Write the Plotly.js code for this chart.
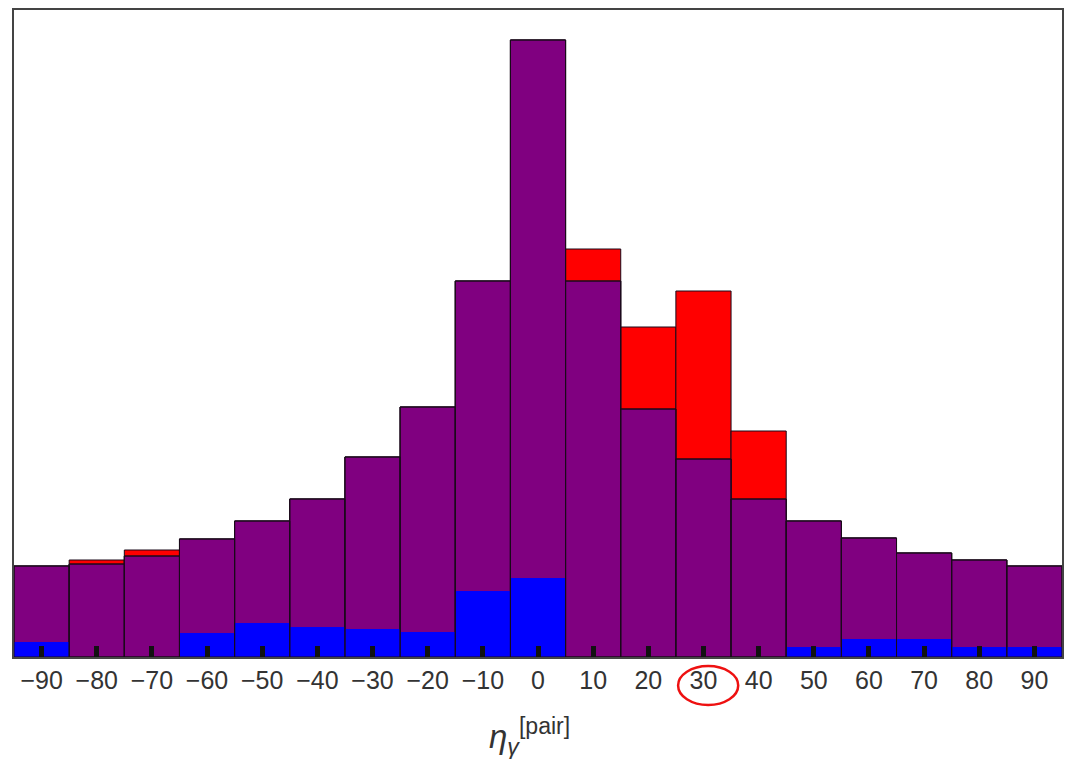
<!DOCTYPE html>
<html>
<head>
<meta charset="utf-8">
<script src="https://cdn.plot.ly/plotly-3.0.1.min.js"></script>
<style>html,body{margin:0;padding:0;background:#fff;}#chart{width:1068px;height:759px;}</style>
</head>
<body>
<div id="chart"></div>
<script>
// bin centres of eta_gamma^[pair]
var binCenters = [-90,-80,-70,-60,-50,-40,-30,-20,-10,0,10,20,30,40,50,60,70,80,90];
// counts (arbitrary units)
var redCounts    = [91,97,107,118,136,158,200,250,376,617,408,330,366,226,136,119,104,97,91];
var purpleCounts = [91,93,101,118,136,158,200,250,376,617,376,248,198,158,136,119,104,97,91];
var blueCounts   = [15,0,0,24,34,30,28,25,66,79,0,0,0,0,10,18,18,10,10];
var tickVals = [-90,-80,-70,-60,-50,-40,-30,-20,-10,0,10,20,30,40,50,60,70,80,90];
var binWidth = 10;

function widths(){ return binCenters.map(function(){return binWidth;}); }

var edge = '#1a0a1a';
var traces = [
  {type:'bar', x:binCenters, y:redCounts, width:widths(),
   marker:{color:'#ff0000', line:{color:edge, width:1}}, hoverinfo:'x+y', name:'red'},
  {type:'bar', x:binCenters, y:purpleCounts, width:widths(),
   marker:{color:'#800080', line:{color:edge, width:1}}, hoverinfo:'x+y', name:'purple'},
  {type:'bar', x:binCenters, y:blueCounts, width:widths(),
   marker:{color:'#0000ff', line:{width:0}}, hoverinfo:'x+y', name:'blue'},
  {type:'bar', x:binCenters, y:purpleCounts, width:widths(),
   marker:{color:'rgba(0,0,0,0)', line:{color:edge, width:1}}, hoverinfo:'skip', name:'edges'}
];

var layout = {
  width:1068, height:759,
  margin:{l:14, r:6, t:10, b:102},
  paper_bgcolor:'#ffffff', plot_bgcolor:'#ffffff',
  barmode:'overlay', bargap:0, showlegend:false,
  font:{family:'Liberation Sans, Arial, sans-serif', color:'#333333'},
  xaxis:{range:[-95,95], tickmode:'array', tickvals:tickVals,
    ticks:'inside', ticklen:11, tickwidth:5, tickcolor:'#111111',
    showline:true, linecolor:'#444444', linewidth:2, mirror:true,
    showgrid:false, zeroline:false,
    tickfont:{size:25, color:'#333333'}, fixedrange:true},
  yaxis:{range:[0,647], showticklabels:false, ticks:'',
    showline:true, linecolor:'#444444', linewidth:2, mirror:true,
    showgrid:false, zeroline:false, fixedrange:true},
  annotations:[{
    xref:'paper', yref:'paper', x:0.492, y:-0.123, xanchor:'center', yanchor:'middle',
    showarrow:false,
    text:'<i>η<sub>γ</sub></i><sup>[pair]</sup>',
    font:{size:33, color:'#333333', family:'Liberation Sans, Arial, sans-serif'}
  }],
  shapes:[{
    type:'circle', xref:'x', yref:'paper',
    x0:25.4, x1:36.3, y0:-0.0742, y1:-0.0139,
    line:{color:'#ee1111', width:2.5}
  }]
};

Plotly.newPlot('chart', traces, layout, {displayModeBar:false, staticPlot:true});
</script>
</body>
</html>
